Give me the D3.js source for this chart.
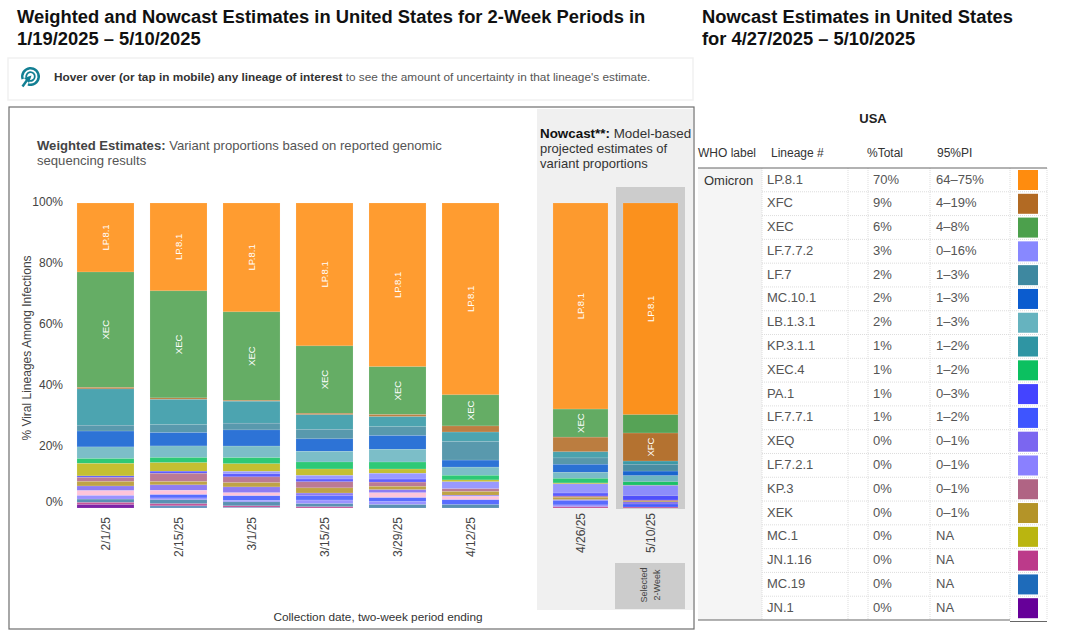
<!DOCTYPE html>
<html>
<head>
<meta charset="utf-8">
<script src="https://cdn.jsdelivr.net/npm/d3@7"></script>
<style>
  html, body { margin: 0; padding: 0; background: #fff; }
  svg { display: block; font-family: "Liberation Sans", Arial, sans-serif; }
</style>
</head>
<body>
<svg id="chart" width="1080" height="640"></svg>
<script>
// periods
const weightedDates = ["2/1/25", "2/15/25", "3/1/25", "3/15/25", "3/29/25", "4/12/25"];
const nowcastDates = ["4/26/25", "5/10/25"];
const allDates = weightedDates.concat(nowcastDates);
const yTicks = [0, 20, 40, 60, 80, 100];

// stack order, top of bar first
const stackOrder = ["LP.8.1", "XEC", "XFC", "KP.3.1.1", "LF.7", "MC.10.1", "LB.1.3.1", "XEC.4", "MC.1", "LF.7.7.2",
  "PA.1", "KP.3", "XEK", "XEQ", "Other pink", "LF.7.7.1", "LF.7.2.1", "MC.19", "JN.1.16", "JN.1", "Other blue"];
const labelledLineages = ["LP.8.1", "XEC", "XFC"];

// percent of each bar, same order as allDates
const valLP81 = [22.6, 28.9, 35.7, 46.9, 53.8, 62.9, 67.5, 69.5];
const valXEC = [37.8, 35.2, 29.0, 22.1, 15.7, 10.2, 9.2, 6.0];
const valXFC = [0.5, 0.5, 0.3, 0.5, 0.7, 2.0, 4.8, 9.2];
const valKP311 = [11.9, 8.3, 7.2, 4.8, 3.3, 3.1, 2.0, 1.1];
const valLF7 = [1.9, 2.6, 2.2, 3.1, 2.9, 6.1, 2.1, 2.2];
const valMC101 = [5.2, 4.4, 5.3, 4.1, 4.5, 2.3, 2.6, 1.5];
const valLB131 = [3.8, 3.8, 3.8, 3.5, 4.2, 2.7, 2.0, 2.0];
const valXEC4 = [1.6, 1.7, 2.0, 2.3, 2.3, 1.5, 1.5, 1.1];
const valMC1 = [4.1, 2.8, 2.5, 2.1, 1.4, 0.6, 0.3, 0.1];
const valLF772 = [0, 0, 0.8, 1.2, 1.9, 2.3, 3.0, 3.4];
const valPA1 = [0.5, 0.7, 1.0, 0.9, 1.0, 0, 1.0, 1.4];
const valKP3 = [1.3, 2.7, 1.9, 2.0, 1.4, 0.9, 0.4, 0.3];
const valXEK = [1.5, 1.1, 1.4, 1.7, 1.1, 1.2, 0.8, 0.3];
const valXEQ = [1.5, 1.8, 1.9, 0.9, 1.0, 0.4, 0.3, 0.7];
const valPink = [1.6, 1.4, 1.0, 0, 1.6, 1.1, 0, 0];
const valLF771 = [0, 1.1, 1.5, 1.4, 1.3, 1.6, 1.4, 1.0];
const valLF721 = [1.2, 0.6, 0.5, 1.2, 1.0, 0, 0.6, 0];
const valMC19 = [1.1, 1.3, 1.3, 1.0, 1.1, 1.1, 0, 0];
const valJN116 = [0.7, 0.7, 0.5, 0.4, 0, 0, 0.4, 0.3];
const valJN1 = [1.1, 0, 0, 0, 0, 0, 0, 0];
const valOtherBlue = [0, 0.7, 0.2, 0, 0, 0, 0, 0];

const stackValues = [valLP81, valXEC, valXFC, valKP311, valLF7, valMC101, valLB131, valXEC4, valMC1, valLF772,
  valPA1, valKP3, valXEK, valXEQ, valPink, valLF771, valLF721, valMC19, valJN116, valJN1, valOtherBlue];

const stackColors = ["#ff8c0e", "#4ca04c", "#b26a23", "#2f95a3", "#3e88a0", "#0b5ccf", "#66b3bf", "#0cc060", "#bab510", "#8888ff",
  "#4444ff", "#b06484", "#b49428", "#7b66f0", "#ffbbd4", "#3e55ff", "#8a80ff", "#3f7fa6", "#bc3a8a", "#660099", "#4a7fb5"];

// nowcast table
const tableLineages = ["LP.8.1", "XFC", "XEC", "LF.7.7.2", "LF.7", "MC.10.1", "LB.1.3.1", "KP.3.1.1", "XEC.4", "PA.1",
  "LF.7.7.1", "XEQ", "LF.7.2.1", "KP.3", "XEK", "MC.1", "JN.1.16", "MC.19", "JN.1"];
const tableTotals = ["70%", "9%", "6%", "3%", "2%", "2%", "2%", "1%", "1%", "1%", "1%", "0%", "0%", "0%", "0%", "0%", "0%", "0%", "0%"];
const tablePI = ["64–75%", "4–19%", "4–8%", "0–16%", "1–3%", "1–3%", "1–3%", "1–2%", "1–2%", "0–3%", "1–2%", "0–1%", "0–1%", "0–1%", "0–1%", "NA", "NA", "NA", "NA"];

const svg = d3.select("#chart");

// titles
function addText(parent, x, y, str, size, color, weight) {
  return parent.append("text")
    .attr("x", x).attr("y", y)
    .style("font-size", size + "px")
    .style("fill", color)
    .style("font-weight", weight || "normal")
    .text(str);
}

addText(svg, 17, 23, "Weighted and Nowcast Estimates in United States for 2-Week Periods in", 18.35, "#111", "bold");
addText(svg, 17, 45, "1/19/2025 – 5/10/2025", 18.35, "#111", "bold");
addText(svg, 702, 23, "Nowcast Estimates in United States", 18.35, "#111", "bold");
addText(svg, 702, 45, "for 4/27/2025 – 5/10/2025", 18.35, "#111", "bold");

// hover note
svg.append("rect").attr("x", 8).attr("y", 58).attr("width", 685).attr("height", 42)
  .attr("fill", "#fff").attr("stroke", "#f1f1f1").attr("stroke-width", 1.5);

// target icon, rings open towards the arrow at lower left
const icon = svg.append("g").attr("transform", "translate(30.5,76.5)").attr("fill", "#127f93");
icon.append("path").attr("d", d3.arc()({ innerRadius: 7, outerRadius: 9.5, startAngle: 4.4, endAngle: 9.75 }));
icon.append("path").attr("d", d3.arc()({ innerRadius: 3.4, outerRadius: 5.2, startAngle: 4.4, endAngle: 9.75 }));
icon.append("path").attr("d", "M1,-1L-6.5,1.5L-1.5,6.5Z");
icon.append("path").attr("d", "M-3,3L-8,10").attr("stroke", "#127f93").attr("stroke-width", 2.4);

const note = addText(svg, 54, 81, "", 11.8, "#555");
note.append("tspan").style("font-weight", "bold").style("fill", "#333").text("Hover over (or tap in mobile) any lineage of interest");
note.append("tspan").text(" to see the amount of uncertainty in that lineage's estimate.");

// chart frame
svg.append("rect").attr("x", 9).attr("y", 107).attr("width", 685).attr("height", 522)
  .attr("fill", "#fff").attr("stroke", "#6e6e6e").attr("stroke-width", 1.2);
svg.append("rect").attr("x", 537).attr("y", 109).attr("width", 156).attr("height", 501).attr("fill", "#f0f0f0");
svg.append("rect").attr("x", 616).attr("y", 187).attr("width", 69).attr("height", 322).attr("fill", "#cccccc");
svg.append("rect").attr("x", 615).attr("y", 563).attr("width", 70).attr("height", 46).attr("fill", "#cccccc");

const selected = svg.append("text").attr("transform", "translate(647,585) rotate(-90)")
  .attr("text-anchor", "middle").style("font-size", "9px").style("fill", "#444");
selected.append("tspan").attr("x", 0).attr("y", 0).text("Selected");
selected.append("tspan").attr("x", 0).attr("y", 13).text("2-Week");

const weightedHead = addText(svg, 37, 150, "", 13.1, "#555");
weightedHead.append("tspan").style("font-weight", "bold").style("fill", "#444").text("Weighted Estimates:");
weightedHead.append("tspan").text(" Variant proportions based on reported genomic");
addText(svg, 37, 165, "sequencing results", 13.1, "#555");

const nowcastHead = addText(svg, 540, 138, "", 13.4, "#333");
nowcastHead.append("tspan").style("font-weight", "bold").style("fill", "#111").text("Nowcast**:");
nowcastHead.append("tspan").text(" Model-based");
addText(svg, 540, 153, "projected estimates of", 13, "#333");
addText(svg, 540, 168, "variant proportions", 13, "#333");

// scales
const y = d3.scaleLinear().domain([0, 100]).range([508, 203]);

const xWeighted = d3.scaleBand().domain(weightedDates).range([61, 515]).padding(0.219);
const xNowcast = d3.scaleBand().domain(nowcastDates).range([545, 686]).paddingInner(0.214).paddingOuter(0.114);

function xOf(date) {
  return weightedDates.includes(date) ? xWeighted(date) : xNowcast(date);
}
function widthOf(date) {
  return weightedDates.includes(date) ? xWeighted.bandwidth() : xNowcast.bandwidth();
}

// stacked bars
const rows = allDates.map((date, i) => {
  let row = { date: date };
  stackOrder.forEach((name, s) => { row[name] = stackValues[s][i]; });
  return row;
});

const stack = d3.stack()
  .keys(stackOrder)
  .order(d3.stackOrderReverse)
  .offset(d3.stackOffsetExpand);

const layers = stack(rows);

svg.append("g").selectAll("g")
  .data(layers)
  .join("g")
  .attr("fill", d => stackColors[stackOrder.indexOf(d.key)])
  .selectAll("rect")
  .data(d => d)
  .join("rect")
  .attr("x", d => xOf(d.data.date))
  .attr("y", d => y(d[1] * 100))
  .attr("width", d => widthOf(d.data.date))
  .attr("height", d => y(d[0] * 100) - y(d[1] * 100))
  .attr("fill-opacity", d => d.data.date === "5/10/25" ? 0.92 : 0.86)
  .attr("stroke", "#fff")
  .attr("stroke-opacity", 0.25)
  .attr("stroke-width", 0.5);

// lineage names inside the big segments
const labelled = [];
layers.filter(layer => labelledLineages.includes(layer.key)).forEach(layer => {
  layer.forEach(d => {
    if (d.data[layer.key] >= 8) labelled.push({ name: layer.key, date: d.data.date, mid: (d[0] + d[1]) * 50 });
  });
});

svg.append("g").selectAll("text")
  .data(labelled)
  .join("text")
  .attr("transform", d => `translate(${xOf(d.date) + widthOf(d.date) / 2 + 3.3},${y(d.mid)}) rotate(-90)`)
  .attr("text-anchor", "middle")
  .style("font-size", "9.5px")
  .style("fill", "#fff")
  .text(d => d.name);

// y axis
const yAxis = svg.append("g")
  .attr("transform", "translate(63,0)")
  .call(d3.axisLeft(y).tickValues(yTicks).tickFormat(d => d + "%").tickSize(0).tickPadding(0));
yAxis.select(".domain").remove();
yAxis.selectAll("text")
  .attr("dy", d => d === 0 ? "-0.22em" : "0.17em")
  .style("font-family", "inherit")
  .style("font-size", "12px")
  .style("fill", "#444");

svg.append("text")
  .attr("transform", "translate(31,348) rotate(-90)")
  .attr("text-anchor", "middle")
  .style("font-size", "12px")
  .style("fill", "#444")
  .text("% Viral Lineages Among Infections");

// x labels
svg.append("g").selectAll("text")
  .data(allDates)
  .join("text")
  .attr("transform", d => `translate(${xOf(d) + widthOf(d) / 2 + 4.5},${weightedDates.includes(d) ? 517 : 513}) rotate(-90)`)
  .attr("text-anchor", "end")
  .style("font-size", "12px")
  .style("fill", "#444")
  .text(d => d);

svg.append("text")
  .attr("x", 378).attr("y", 621)
  .attr("text-anchor", "middle")
  .style("font-size", "11.8px")
  .style("fill", "#333")
  .text("Collection date, two-week period ending");

// table
const rowY = d3.scaleBand().domain(tableLineages).range([168, 620]);
const colVLines = [762, 848, 868, 930, 1010, 1047];

const table = svg.append("g");

table.append("rect").attr("x", 698).attr("y", 168).attr("width", 64).attr("height", 452).attr("fill", "#f5f5f5");

table.selectAll("line.rowLine")
  .data(tableLineages.slice(1))
  .join("line")
  .attr("class", "rowLine")
  .attr("x1", 762).attr("x2", 1047)
  .attr("y1", d => rowY(d)).attr("y2", d => rowY(d))
  .attr("stroke", "#dddddd").attr("stroke-dasharray", "1,1");

table.selectAll("line.colLine")
  .data(colVLines)
  .join("line")
  .attr("class", "colLine")
  .attr("x1", d => d).attr("x2", d => d)
  .attr("y1", 168).attr("y2", 620)
  .attr("stroke", "#dddddd").attr("stroke-dasharray", "1,1");

table.append("line").attr("x1", 698).attr("x2", 1047).attr("y1", 168).attr("y2", 168).attr("stroke", "#666").attr("stroke-width", 1.2);
table.append("line").attr("x1", 698).attr("x2", 1010).attr("y1", 620).attr("y2", 620).attr("stroke", "#666").attr("stroke-width", 1.2);
table.append("line").attr("x1", 1010).attr("x2", 1047).attr("y1", 621.5).attr("y2", 621.5).attr("stroke", "#666").attr("stroke-width", 1.2);

addText(table, 873, 123, "USA", 13, "#222", "bold").attr("text-anchor", "middle");
addText(table, 698, 157, "WHO label", 12, "#333");
addText(table, 771, 157, "Lineage #", 12, "#333");
addText(table, 867, 157, "%Total", 12, "#333");
addText(table, 937, 157, "95%PI", 12, "#333");
addText(table, 704, 184.5, "Omicron", 13, "#333");

const tableColors = { };
stackOrder.forEach((name, s) => { tableColors[name] = stackColors[s]; });

const tableRow = table.selectAll("g.row")
  .data(tableLineages)
  .join("g")
  .attr("class", "row")
  .attr("transform", d => `translate(0,${rowY(d)})`);

tableRow.append("text").attr("x", 767).attr("y", 15.5).style("font-size", "13px").style("fill", "#555").text(d => d);
tableRow.append("text").attr("x", 873).attr("y", 15.5).style("font-size", "13px").style("fill", "#555").text((d, i) => tableTotals[i]);
tableRow.append("text").attr("x", 936).attr("y", 15.5).style("font-size", "13px").style("fill", "#555").text((d, i) => tablePI[i]);
tableRow.append("rect")
  .attr("x", 1018).attr("y", 2)
  .attr("width", 20).attr("height", 20)
  .attr("fill", d => d === "MC.19" ? "#1e6bba" : tableColors[d]);
</script>
</body>
</html>
